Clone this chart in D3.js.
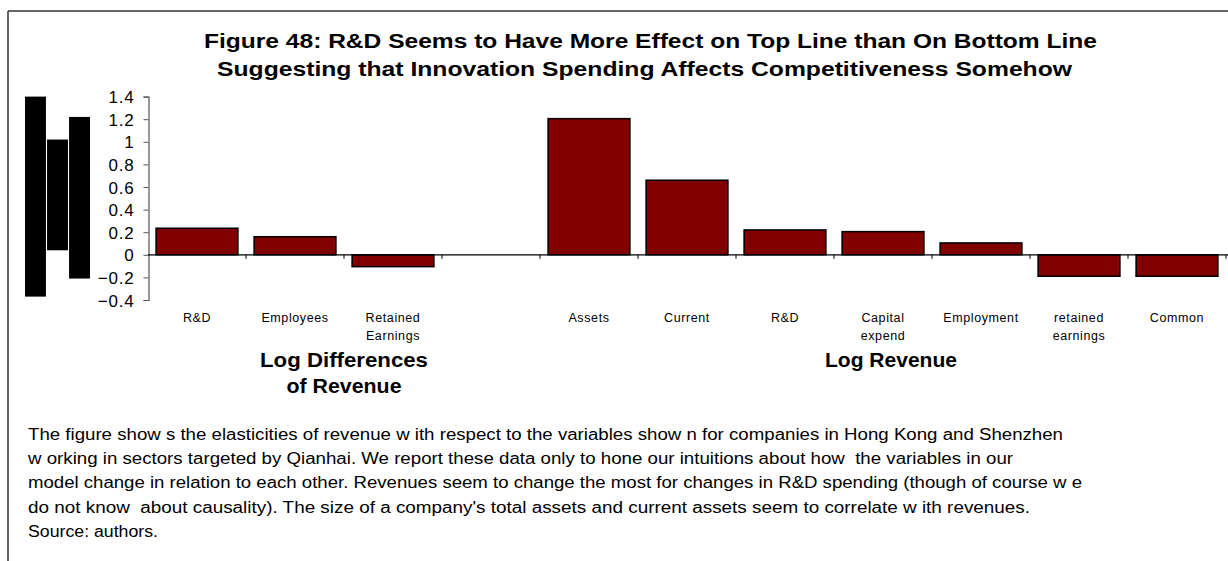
<!DOCTYPE html>
<html><head><meta charset="utf-8">
<script src="https://cdn.jsdelivr.net/npm/d3@7"></script>
<style>
html,body{margin:0;padding:0;background:#fff;}
svg{display:block;font-family:"Liberation Sans",Arial,sans-serif;}
</style></head>
<body><svg id="c" width="1228" height="561"></svg>
<script>
// ---- data ----
const categories = ["R&D","Employees","Retained Earnings","","Assets","Current","R&D ","Capital expend","Employment","retained earnings","Common"];
const labelLines = [["R&D"],["Employees"],["Retained","Earnings"],[""],["Assets"],["Current"],["R&D"],["Capital","expend"],["Employment"],["retained","earnings"],["Common"]];
const values = [0.235, 0.16, -0.105, null, 1.205, 0.66, 0.22, 0.205, 0.105, -0.19, -0.19];
const yTicks = [-0.4,-0.2,0,0.2,0.4,0.6,0.8,1,1.2,1.4];
const groups = [{name:["Log Differences","of Revenue"], from:0, to:3}, {name:["Log Revenue"], from:4, to:10}];
const legendStubs = [1.4, 1.02, 1.22]; // decorative black blocks (tops in y-units)
const legendStubBottoms = [-0.37, 0.04, -0.21];
const titleLines = ["Figure 48: R&D Seems to Have More Effect on Top Line than On Bottom Line",
                    "Suggesting that Innovation Spending Affects Competitiveness Somehow"];
const captionLines = [
 "The figure show s the elasticities of revenue w ith respect to the variables show n for companies in Hong Kong and Shenzhen",
 "w orking in sectors targeted by Qianhai. We report these data only to hone our intuitions about how  the variables in our",
 "model change in relation to each other. Revenues seem to change the most for changes in R&D spending (though of course w e",
 "do not know  about causality). The size of a company's total assets and current assets seem to correlate w ith revenues.",
 "Source: authors."];

const svg = d3.select("#c");
// frame
svg.append("line").attr("x1",8).attr("x2",1228).attr("y1",11).attr("y2",11).attr("stroke","#333").attr("stroke-width",1.5);
svg.append("line").attr("x1",8).attr("x2",8).attr("y1",11).attr("y2",561).attr("stroke","#333").attr("stroke-width",1.5);

const x = d3.scaleBand().domain(categories).range([148,1226]).paddingInner(0.165).paddingOuter(0.0825);
const y = d3.scaleLinear().domain([-0.4,1.4]).range([300,96.6]);

// title (extents measured in the reference)
const titleExt = [[204,1097],[217,1072]];
svg.append("g").selectAll("text").data(titleLines).join("text")
  .attr("x",(d,i)=>titleExt[i][0]).attr("y",(d,i)=>48+i*27.5)
  .attr("textLength",(d,i)=>titleExt[i][1]-titleExt[i][0]).attr("lengthAdjust","spacingAndGlyphs")
  .attr("font-size",19.5).attr("font-weight","bold").attr("fill","#000").text(d=>d);

// decorative black blocks
const sx = d3.scaleBand().domain([0,1,2]).range([25,90]).paddingInner(0.05);
svg.append("g").selectAll("rect").data(legendStubs).join("rect")
  .attr("x",(d,i)=>sx(i)).attr("width",sx.bandwidth())
  .attr("y",d=>y(d)).attr("height",(d,i)=>y(legendStubBottoms[i])-y(d)).attr("fill","#000");

// y axis
const ya = svg.append("g").attr("transform","translate(148.5,0)")
  .call(d3.axisLeft(y).tickValues(yTicks).tickSize(5).tickFormat(d=>d3.format("")(+d.toFixed(1))));
ya.select(".domain").attr("stroke","#555").attr("stroke-width",1.2);
ya.selectAll(".tick line").attr("stroke","#555");
ya.selectAll(".tick text").attr("font-size",17).attr("font-family","Liberation Sans, Arial, sans-serif")
  .attr("fill","#000").attr("x",-14).attr("dy","0.36em").attr("letter-spacing","0.8px");

// bars
const bd = categories.map((c,i)=>({c,v:values[i]})).filter(d=>d.v!==null);
svg.append("g").selectAll("rect").data(bd).join("rect")
  .attr("x",d=>x(d.c)).attr("width",x.bandwidth())
  .attr("y",d=>y(Math.max(0,d.v))).attr("height",d=>Math.abs(y(d.v)-y(0)))
  .attr("fill","#800000").attr("stroke","#000").attr("stroke-width",1.5);

// x axis line at 0
const x0 = y(0);
svg.append("line").attr("x1",148).attr("x2",1228).attr("y1",x0).attr("y2",x0).attr("stroke","#000").attr("stroke-width",1.2);
const step = x.step();
const boundaries = d3.range(1,categories.length+1).map(i=>x(categories[i-1])+x.bandwidth()+step*x.paddingInner()/2);
svg.append("g").selectAll("line").data(boundaries).join("line")
  .attr("x1",d=>d).attr("x2",d=>d).attr("y1",x0).attr("y2",x0+4).attr("stroke","#000");

// category labels
const lg = svg.append("g");
categories.forEach((c,i)=>{
  const cx = x(c)+x.bandwidth()/2;
  labelLines[i].forEach((t,j)=>{
    lg.append("text").attr("x",cx).attr("y",322+j*17.5).attr("text-anchor","middle")
      .attr("font-size",12.5).attr("letter-spacing","0.6px").attr("fill","#000").text(t);
  });
});

// group labels
const groupLen = [[168,115],[132]];
groups.forEach((g,gi)=>{
  const a = x(categories[g.from]) - step*x.paddingInner()/2;
  const b = x(categories[g.to]) + x.bandwidth() + step*x.paddingInner()/2;
  const cx = (a+b)/2 + (gi===1?8:0);
  g.name.forEach((t,j)=>{
    const L = groupLen[gi][j];
    svg.append("text").attr("x",cx-L/2).attr("y",367+j*25.5)
      .attr("textLength",L).attr("lengthAdjust","spacingAndGlyphs")
      .attr("font-size",19.5).attr("font-weight","bold").attr("fill","#000").text(t);
  });
});

// caption
const captionEnd = [1063,1013,1082,1030,158];
svg.append("g").selectAll("text").data(captionLines).join("text")
  .attr("x",28).attr("y",(d,i)=>440+i*24.2).attr("font-size",16).attr("fill","#000")
  .attr("textLength",(d,i)=>captionEnd[i]-28).attr("lengthAdjust","spacingAndGlyphs")
  .attr("xml:space","preserve").style("white-space","pre").text(d=>d);
</script></body></html>
